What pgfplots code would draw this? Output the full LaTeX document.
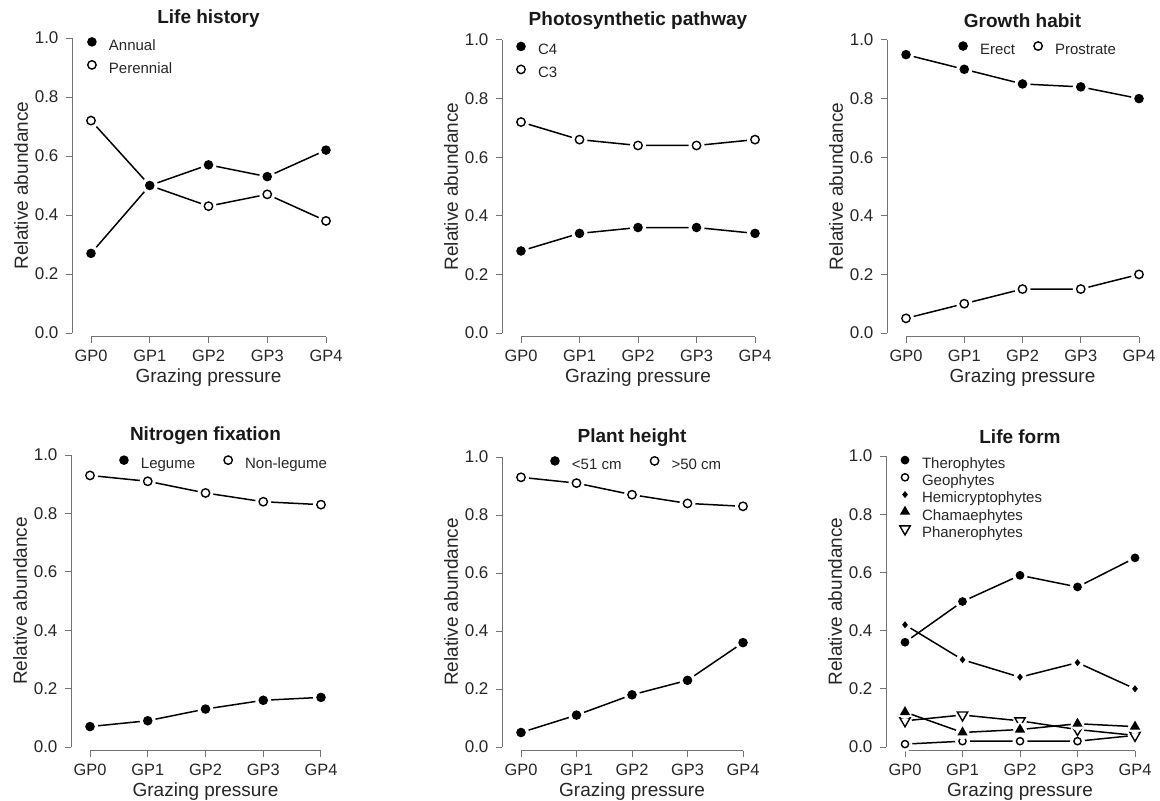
\documentclass[border=0pt]{standalone}
\usepackage{fontspec}
\setmainfont{Liberation Sans}
\usepackage{pgfplots}
\pgfplotsset{compat=1.18}

% R style "type b" marks: a white halo leaves a gap in the line round each point
\newdimen\halor
\pgfdeclareplotmark{hfill}{%
  \halor=\pgfplotmarksize \advance\halor by 1.6pt
  \pgfpathcircle{\pgfpointorigin}{\halor}\pgfsetfillcolor{white}\pgfusepathqfill
  \pgfpathcircle{\pgfpointorigin}{\pgfplotmarksize}\pgfsetfillcolor{black}\pgfusepathqfill}
\pgfdeclareplotmark{hcirc}{%
  \halor=\pgfplotmarksize \advance\halor by 1.9pt
  \pgfpathcircle{\pgfpointorigin}{\halor}\pgfsetfillcolor{white}\pgfusepathqfill
  \pgfpathcircle{\pgfpointorigin}{\pgfplotmarksize}\pgfsetfillcolor{white}\pgfusepathqfillstroke}
\pgfdeclareplotmark{hdiam}{%
  \halor=\pgfplotmarksize \advance\halor by 1.4pt
  \pgfpathcircle{\pgfpointorigin}{\halor}\pgfsetfillcolor{white}\pgfusepathqfill
  \pgfpathmoveto{\pgfqpoint{0pt}{\pgfplotmarksize}}
  \pgfpathlineto{\pgfqpoint{0.8\pgfplotmarksize}{0pt}}
  \pgfpathlineto{\pgfqpoint{0pt}{-\pgfplotmarksize}}
  \pgfpathlineto{\pgfqpoint{-0.8\pgfplotmarksize}{0pt}}
  \pgfpathclose\pgfsetfillcolor{black}\pgfusepathqfill}
\pgfdeclareplotmark{htri}{%
  \halor=\pgfplotmarksize \advance\halor by 0.4pt
  \pgfpathcircle{\pgfpointorigin}{\halor}\pgfsetfillcolor{white}\pgfusepathqfill
  \pgfpathmoveto{\pgfqpoint{0pt}{\pgfplotmarksize}}
  \pgfpathlineto{\pgfqpoint{0.866\pgfplotmarksize}{-0.5\pgfplotmarksize}}
  \pgfpathlineto{\pgfqpoint{-0.866\pgfplotmarksize}{-0.5\pgfplotmarksize}}
  \pgfpathclose\pgfsetfillcolor{black}\pgfusepathqfill}
\pgfdeclareplotmark{hdtri}{%
  \halor=\pgfplotmarksize \advance\halor by 0.4pt
  \pgfpathcircle{\pgfpointorigin}{\halor}\pgfsetfillcolor{white}\pgfusepathqfill
  \pgfpathmoveto{\pgfqpoint{0pt}{-\pgfplotmarksize}}
  \pgfpathlineto{\pgfqpoint{0.866\pgfplotmarksize}{0.5\pgfplotmarksize}}
  \pgfpathlineto{\pgfqpoint{-0.866\pgfplotmarksize}{0.5\pgfplotmarksize}}
  \pgfpathclose\pgfsetfillcolor{white}\pgfusepathqfillstroke}

\pgfplotsset{
  rpanel/.style={
    scale only axis, clip=false, axis on top,
    xmin=0, xmax=4, ymin=0, ymax=1,
    axis x line=bottom, axis y line=left,
    axis line style={-, draw=black!55, line width=0.5pt},
    every outer x axis line/.append style={-},
    every outer y axis line/.append style={-},
    axis x line shift=1.75pt, axis y line shift=9.5pt,
    xtick={0,1,2,3,4}, xticklabels={GP0,GP1,GP2,GP3,GP4},
    ytick={0,0.2,0.4,0.6,0.8,1}, yticklabels={0.0,0.2,0.4,0.6,0.8,1.0},
    tick align=outside, major tick length=3.25pt,
    tick style={draw=black!55, line width=0.5pt},
    ticklabel style={text=black!85},
    xticklabel style={font=\fontsize{8.2}{10}\selectfont},
    yticklabel style={font=\fontsize{8.5}{10}\selectfont},
    xlabel=Grazing pressure, ylabel=Relative abundance,
    label style={font=\fontsize{9.5}{11}\selectfont, text=black!85},
    xlabel style={at={([yshift=-22.5pt]axis description cs:0.5,0)}, anchor=center},
    ylabel style={at={([xshift=-35pt]axis description cs:0,0.5)}, anchor=center},
    every axis title shift=0pt,
    title style={at={([yshift=9.5pt]axis description cs:0.5,1)}, anchor=center,
      font=\bfseries\fontsize{9.5}{11}\selectfont, text=black!90},
    every axis plot/.append style={black, line width=0.75pt},
    legend cell align=left,
    legend image code/.code={\path[draw=none,fill=none] (-4pt,-1.5pt) rectangle (8.5pt,5.5pt);
      \begin{pgfinterruptboundingbox}\draw[##1] plot coordinates {(0pt,2.2pt)};\end{pgfinterruptboundingbox}},
    legend style={draw=none, fill=none, inner sep=0pt, outer sep=0pt,
      anchor=north west, font=\fontsize{7.5}{9}\selectfont, text=black!85,
      nodes={inner sep=0pt, text height=5.5pt, text depth=1.5pt}, row sep=2.5pt},
  },
  sfill/.style={mark=hfill, mark size=2.4pt},
  sopen/.style={mark=hcirc, mark size=2.1pt, mark options={line width=0.7pt}},
  sphan/.style={mark=hdtri, mark size=3pt, mark options={line width=0.7pt}},
}

\begin{document}
\begin{tikzpicture}
\path[use as bounding box] (0,0) rectangle (580pt,400pt);

% Life history
\begin{axis}[rpanel, at={(45.5pt,233.5pt)}, anchor=south west,
  width=117.5pt, height=147.5pt, title={Life history}, reverse legend,
  legend style={at={([xshift=-4pt,yshift=4.3pt]axis description cs:0.004,0.98)}}]
\addplot[sopen] coordinates {(0,0.72)(1,0.50)(2,0.43)(3,0.47)(4,0.38)};
\addlegendentry{Perennial}
\addplot[sfill] coordinates {(0,0.27)(1,0.50)(2,0.57)(3,0.53)(4,0.62)};
\addlegendentry{Annual}
\end{axis}

% Photosynthetic pathway
\begin{axis}[rpanel, at={(260.5pt,233.5pt)}, anchor=south west,
  width=117pt, height=146.5pt, title={Photosynthetic pathway},
  legend style={at={([xshift=-4pt,yshift=3.6pt]axis description cs:0,0.976)}}]
\addplot[sfill] coordinates {(0,0.28)(1,0.34)(2,0.36)(3,0.36)(4,0.34)};
\addlegendentry{C4}
\addplot[sopen] coordinates {(0,0.72)(1,0.66)(2,0.64)(3,0.64)(4,0.66)};
\addlegendentry{C3}
\end{axis}

% Growth habit
\begin{axis}[rpanel, at={(453pt,233.5pt)}, anchor=south west,
  width=116.5pt, height=146.5pt, title={Growth habit}, legend columns=2,
  legend style={at={([xshift=-4pt,yshift=3.8pt]axis description cs:0.245,0.976)},
    /tikz/every even column/.append style={column sep=7.5pt}}]
\addplot[sfill] coordinates {(0,0.95)(1,0.90)(2,0.85)(3,0.84)(4,0.80)};
\addlegendentry{Erect}
\addplot[sopen] coordinates {(0,0.05)(1,0.10)(2,0.15)(3,0.15)(4,0.20)};
\addlegendentry{Prostrate}
\end{axis}

% Nitrogen fixation
\begin{axis}[rpanel, at={(45pt,26.5pt)}, anchor=south west,
  width=115.5pt, height=146pt, title={Nitrogen fixation}, legend columns=2,
  legend style={at={([xshift=-4pt,yshift=3.8pt]axis description cs:0.147,0.979)},
    /tikz/every even column/.append style={column sep=12.5pt}}]
\addplot[sfill] coordinates {(0,0.07)(1,0.09)(2,0.13)(3,0.16)(4,0.17)};
\addlegendentry{Legume}
\addplot[sopen] coordinates {(0,0.93)(1,0.91)(2,0.87)(3,0.84)(4,0.83)};
\addlegendentry{Non-legume}
\end{axis}

% Plant height
\begin{axis}[rpanel, at={(260.5pt,26.5pt)}, anchor=south west,
  width=111pt, height=145pt, title={Plant height}, legend columns=2,
  legend style={at={([xshift=-4pt,yshift=3.8pt]axis description cs:0.153,0.983)},
    /tikz/every even column/.append style={column sep=12.5pt}}]
\addplot[sfill] coordinates {(0,0.05)(1,0.11)(2,0.18)(3,0.23)(4,0.36)};
\addlegendentry{<51 cm}
\addplot[sopen] coordinates {(0,0.93)(1,0.91)(2,0.87)(3,0.84)(4,0.83)};
\addlegendentry{>50 cm}
\end{axis}

% Life form
\begin{axis}[rpanel, at={(452.5pt,26.5pt)}, anchor=south west,
  width=115pt, height=145.5pt, title={Life form},
  legend style={at={([xshift=-4pt,yshift=4.3pt]axis description cs:0,0.979)}, row sep=-0.4pt}]
\addplot[mark=hfill, mark size=2.2pt] coordinates {(0,0.36)(1,0.50)(2,0.59)(3,0.55)(4,0.65)};
\addlegendentry{Therophytes}
\addplot[mark=hcirc, mark size=1.8pt, mark options={line width=0.7pt}] coordinates {(0,0.01)(1,0.02)(2,0.02)(3,0.02)(4,0.04)};
\addlegendentry{Geophytes}
\addplot[mark=hdiam, mark size=1.8pt] coordinates {(0,0.42)(1,0.30)(2,0.24)(3,0.29)(4,0.20)};
\addlegendentry{Hemicryptophytes}
\addplot[sphan, forget plot] coordinates {(0,0.09)(1,0.11)(2,0.09)(3,0.06)(4,0.04)};
\addplot[mark=htri, mark size=3pt] coordinates {(0,0.12)(1,0.05)(2,0.06)(3,0.08)(4,0.07)};
\addlegendentry{Chamaephytes}
\addlegendimage{sphan}
\addlegendentry{Phanerophytes}
\end{axis}
\end{tikzpicture}
\end{document}
